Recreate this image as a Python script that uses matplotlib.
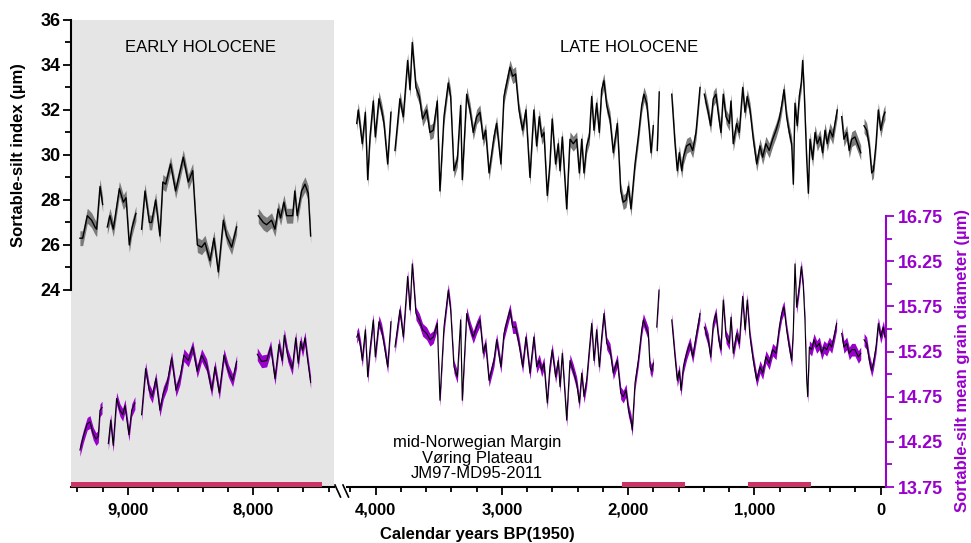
import numpy as np
import matplotlib
matplotlib.use('Agg')
import matplotlib.pyplot as plt
from matplotlib.ticker import MultipleLocator, FixedLocator, FuncFormatter
from matplotlib.lines import Line2D

plt.rcParams['font.family'] = ['Liberation Sans', 'DejaVu Sans']

N = None
# ---------------- Early Holocene ----------------
early_years_ss = [9380, 9358, 9321, 9287, 9260, 9247, 9220, 9199, N,
                  9162, 9141, 9114, 9066, 9034, 9013, 8987, 8968, 8934, N,
                  8889, 8862, 8827, 8809, 8777, 8743, 8720, 8697, 8658, 8618, 8557, 8517, 8482,
                  8445, 8411, 8384, 8344, 8313, 8278, 8238, 8212, 8172, 8132, N,
                  7960, 7920, 7894, 7854, 7827, 7801, 7782, 7756, 7734, 7686, 7669, 7650, 7615,
                  7588, 7562, 7543]
early_ss = [26.3, 26.3, 27.3, 27.1, 26.8, 26.7, 28.6, 27.8, N,
            26.8, 27.3, 26.7, 28.5, 27.9, 28.1, 26.0, 26.7, 27.4, N,
            26.7, 28.4, 27.0, 27.0, 28.0, 26.4, 28.8, 28.7, 29.6, 28.4, 29.9, 28.8, 29.3,
            26.0, 25.9, 26.1, 25.3, 26.3, 24.8, 27.1, 26.4, 25.9, 26.8, N,
            27.3, 27.0, 26.9, 27.1, 26.7, 27.6, 27.2, 27.9, 27.3, 27.3, 28.4, 27.3, 28.4,
            28.7, 28.3, 26.4]

early_years_mgd = [9380, 9353, 9322, 9300, 9274, 9252, 9234, 9220, 9204, N,
                   9154, 9135, 9115, 9088, 9061, 9040, 9021, 8990, 8968, 8942, N,
                   8889, 8857, 8828, 8804, 8775, 8743, 8716, 8685, 8650, 8615, 8584, 8552, 8517,
                   8482, 8446, 8411, 8371, 8331, 8305, 8270, 8233, 8199, 8164, 8132, N,
                   7968, 7933, 7893, 7861, 7827, 7795, 7769, 7753, 7726, 7689, 7662, 7642, 7623,
                   7607, 7588, 7570, 7543]
early_mgd = [14.16, 14.31, 14.45, 14.47, 14.34, 14.28, 14.31, 14.60, 14.63, N,
             14.23, 14.49, 14.21, 14.73, 14.60, 14.55, 14.65, 14.33, 14.60, 14.68, N,
             14.55, 15.06, 14.82, 14.75, 14.95, 14.60, 14.79, 14.90, 15.18, 14.82, 14.95, 15.21, 15.15,
             15.30, 15.03, 15.21, 15.10, 14.82, 15.08, 14.79, 15.21, 15.04, 14.93, 15.14, N,
             15.22, 15.14, 15.15, 15.30, 14.95, 15.33, 15.15, 15.43, 15.21, 15.06, 15.40, 15.12, 15.36,
             15.26, 15.40, 15.19, 14.91]

# ---------------- Late Holocene ----------------
late_years_ss = [4150, 4138, 4119, 4106, 4082, 4063, 4045, 4019, 4003, 3974, 3953, 3934, 3905, 3879, N,
                 3847, 3808, 3781, 3747, 3728, 3710, 3681, 3654, 3628, 3596, 3570, 3544, 3512, 3491,
                 3459, 3425, 3406, 3380, 3353, 3327, 3314, 3279, 3253, 3227, 3200, 3174, 3148, 3129,
                 3102, 3063, 3042, 3008, 2984, 2936, 2915, 2892, 2865, 2836, 2810, 2778, 2747, 2725,
                 2704, 2685, 2667, 2641, 2620, 2602, 2575, 2554, 2540, 2522, 2487, 2461, 2435, 2408,
                 2387, 2368, 2350, 2329, 2308, 2289, 2271, 2250, 2229, 2210, 2192, 2170, 2144, 2118,
                 2086, 2059, 2039, 2017, 1998, 1978, 1946, 1920, 1893, 1875, 1853, 1833, 1819, 1801, N,
                 1770, 1754, N,
                 1655, 1629, 1611, 1595, 1576, 1563, 1537, 1511, 1489, 1463, 1431, N,
                 1397, 1366, 1347, 1326, 1305, 1283, 1265, 1247, 1225, 1199, 1186, 1168, 1141, 1120,
                 1093, 1075, 1057, 1035, 1009, 982, 956, 935, 909, 883, 856, 829, 803, 784, 766, 745,
                 724, 705, 692, 679, 661, 645, 629, 618, 605, 586, 573, 560, 539, 520, 502, 481, 460,
                 441, 423, 402, 380, 362, 344, N,
                 309, 291, 269, 249, 230, 204, 177, 158, N,
                 132, 111, 90, 71, 58, 37, 19, 0, -21, -34]
late_ss = [31.4, 32.0, 31.1, 30.5, 31.9, 28.9, 30.8, 32.4, 30.8, 32.5, 32.0, 31.4, 29.6, 31.9, N,
           30.2, 32.5, 31.7, 34.2, 32.9, 35.0, 33.0, 32.6, 31.6, 32.0, 31.0, 31.1, 32.4, 28.4,
           31.7, 33.2, 32.6, 29.3, 29.8, 32.2, 28.9, 32.7, 32.0, 31.0, 31.7, 31.9, 30.7, 31.1,
           29.2, 30.8, 31.4, 29.6, 32.6, 33.9, 33.5, 33.6, 32.0, 31.1, 32.0, 29.0, 32.0, 30.4,
           31.7, 30.8, 31.0, 28.2, 29.6, 31.6, 29.6, 30.5, 29.3, 30.8, 27.6, 30.7, 30.5, 30.7,
           29.2, 30.7, 29.2, 30.4, 30.8, 32.6, 31.1, 32.3, 31.0, 32.9, 33.3, 32.2, 31.6, 30.1,
           31.4, 28.4, 27.9, 28.0, 28.6, 27.6, 29.6, 30.8, 32.2, 32.7, 32.3, 31.1, 30.1, 31.3, N,
           30.2, 32.8, N,
           32.7, 30.5, 29.3, 30.1, 29.3, 29.9, 30.4, 30.5, 30.2, 31.0, 33.0, N,
           32.7, 31.9, 31.3, 32.5, 32.7, 31.7, 31.0, 32.7, 31.7, 31.4, 32.4, 30.5, 31.4, 31.0,
           33.0, 31.9, 32.6, 32.0, 30.7, 29.6, 30.4, 29.9, 30.5, 30.2, 30.7, 31.1, 31.6, 32.2, 32.9, 31.7,
           31.0, 30.5, 28.7, 32.3, 31.3, 32.6, 33.2, 34.2, 32.7, 29.8, 28.3, 30.7, 29.8, 31.0, 30.5, 30.8, 30.1,
           31.1, 30.5, 31.1, 30.8, 31.4, 32.0, N,
           31.7, 30.7, 31.0, 30.2, 30.7, 30.8, 30.4, 30.1, N,
           31.3, 31.1, 30.4, 29.2, 29.3, 30.5, 32.0, 31.1, 31.7, 31.9]

late_years_mgd = [4150, 4138, 4119, 4106, 4082, 4063, 4045, 4019, 4003, 3974, 3953, 3934, 3905, 3879, N,
                  3847, 3808, 3781, 3747, 3728, 3710, 3681, 3654, 3628, 3596, 3570, 3544, 3512, 3491,
                  3459, 3425, 3406, 3380, 3353, 3327, 3314, 3279, 3253, 3227, 3200, 3174, 3148, 3129,
                  3102, 3063, 3042, 3008, 2984, 2936, 2915, 2892, 2865, 2836, 2810, 2778, 2747, 2725,
                  2704, 2685, 2667, 2641, 2620, 2602, 2575, 2554, 2540, 2522, 2487, 2461, 2435, 2408,
                  2387, 2368, 2350, 2329, 2308, 2289, 2271, 2250, 2229, 2210, 2192, 2170, 2144, 2118,
                  2086, 2059, 2039, 2017, 1998, 1978, 1968, 1946, 1920, 1893, 1880, 1859, 1841, 1827,
                  1814, 1801, N,
                  1774, 1756, N,
                  1655, 1629, 1611, 1595, 1582, 1563, 1537, 1511, 1489, 1463, 1431, N,
                  1397, 1366, 1347, 1326, 1305, 1283, 1265, 1247, 1225, 1199, 1186, 1168, 1141, 1120,
                  1093, 1075, 1057, 1035, 1009, 982, 956, 935, 909, 883, 856, 829, 803, 784, 766, 745,
                  724, 705, 692, 679, 666, 645, 629, 613, 600, 586, 578, 565, 547, 528, 507, 486, 467,
                  449, 428, 407, 388, 370, 349, N,
                  309, 291, 269, 249, 230, 204, 177, 158, N,
                  132, 111, 90, 71, 58, 37, 19, 0, -21, -34]
late_mgd = [15.41, 15.45, 15.30, 15.15, 15.49, 14.97, 15.27, 15.60, 15.19, 15.58, 15.49, 15.34, 15.08, 15.58, N,
            15.30, 15.71, 15.41, 16.08, 15.71, 16.22, 15.67, 15.60, 15.49, 15.45, 15.38, 15.41, 15.56, 14.71,
            15.52, 15.93, 15.71, 15.08, 14.97, 15.60, 14.71, 15.67, 15.52, 15.41, 15.52, 15.60, 15.23, 15.34,
            14.93, 15.15, 15.38, 15.08, 15.45, 15.71, 15.52, 15.52, 15.34, 15.08, 15.41, 15.01, 15.41, 15.08,
            15.15, 15.04, 15.12, 14.68, 15.08, 15.27, 14.97, 15.15, 14.86, 15.23, 14.49, 15.15, 15.04, 14.90,
            14.68, 15.01, 14.75, 14.93, 15.27, 15.56, 15.15, 15.49, 15.08, 15.41, 15.67, 15.34, 15.27, 15.01,
            15.15, 14.79, 14.75, 14.82, 14.60, 14.49, 14.38, 14.90, 15.15, 15.49, 15.60, 15.52, 15.45, 15.08,
            15.03, 15.12, N,
            15.52, 15.93, N,
            15.60, 15.19, 14.93, 15.04, 14.82, 15.08, 15.23, 15.34, 15.19, 15.41, 15.67, N,
            15.52, 15.38, 15.19, 15.56, 15.67, 15.38, 15.27, 15.82, 15.41, 15.34, 15.63, 15.23, 15.45, 15.34,
            15.86, 15.49, 15.82, 15.41, 15.15, 14.93, 15.08, 15.01, 15.19, 15.12, 15.27, 15.23, 15.52, 15.67, 15.74, 15.49,
            15.30, 15.15, 15.49, 16.22, 15.74, 15.97, 16.19, 15.97, 15.60, 14.93, 14.75, 15.30, 15.27, 15.38, 15.30, 15.34, 15.23,
            15.30, 15.27, 15.34, 15.30, 15.41, 15.56, N,
            15.45, 15.30, 15.34, 15.23, 15.27, 15.27, 15.19, 15.23, N,
            15.38, 15.34, 15.15, 15.04, 15.12, 15.30, 15.56, 15.41, 15.52, 15.41]

# cold-event bars (years BP)
bar_starts = [9450, 2050, 1050]
bar_ends = [7450, 1550, 550]

ss_err = 0.33
mgd_err = 0.07

PURPLE = '#9900cc'
PINK = '#cc3366'
GREY_BG = '#e5e5e5'


def runs(xs, ys):
    xs = np.array([np.nan if v is None else v for v in xs], float)
    ys = np.array([np.nan if v is None else v for v in ys], float)
    ok = ~np.isnan(ys)
    out = []
    cur = []
    for i in range(len(xs)):
        if ok[i]:
            cur.append(i)
        else:
            if cur:
                out.append((xs[cur], ys[cur]))
            cur = []
    if cur:
        out.append((xs[cur], ys[cur]))
    return out


def draw(ax, xs, ys, err, band_color, lw):
    for x, y in runs(xs, ys):
        ax.fill_between(x, y - err, y + err, color=band_color, lw=0, zorder=2)
        ax.plot(x, y, color='black', lw=lw, zorder=3)


W, H = 971, 543
fig = plt.figure(figsize=(W / 100, H / 100), dpi=100)

bot = (H - 487) / H
hgt = (487 - 20) / H
axL = fig.add_axes([71 / W, bot, (334 - 71) / W, hgt])
axR = fig.add_axes([347 / W, bot, (886 - 347) / W, hgt])
axL2 = axL.twinx()
axR2 = axR.twinx()

SS_LIM = (15.24, 36)
MGD_LIM = (13.75, 18.92)

axL.set_xlim(9451, 7357)
axR.set_xlim(4227, -42)
for a in (axL, axR):
    a.set_ylim(*SS_LIM)
for a in (axL2, axR2):
    a.set_ylim(*MGD_LIM)

axL.set_facecolor(GREY_BG)

draw(axL, early_years_ss, early_ss, ss_err, '#7a7a7a', 1.0)
draw(axL2, early_years_mgd, early_mgd, mgd_err, PURPLE, 0.8)
draw(axR, late_years_ss, late_ss, ss_err, '#7a7a7a', 1.0)
draw(axR2, late_years_mgd, late_mgd, mgd_err, PURPLE, 0.8)

# pink bars
axL.axvspan(bar_starts[0], bar_ends[0], ymin=0, ymax=0.011, color=PINK, lw=0, zorder=4)
for s, e in zip(bar_starts[1:], bar_ends[1:]):
    axR.axvspan(s, e, ymin=0, ymax=0.011, color=PINK, lw=0, zorder=4)

fmt = FuncFormatter(lambda v, p: f"{v:,.0f}")
for a, majors in ((axL, [9000, 8000]), (axR, [4000, 3000, 2000, 1000, 0])):
    a.xaxis.set_major_locator(FixedLocator(majors))
    a.xaxis.set_minor_locator(MultipleLocator(200))
    a.xaxis.set_major_formatter(fmt)
    a.tick_params(axis='x', which='major', length=5.5, width=1.3, pad=6,
                  labelsize=12, direction='out')
    a.tick_params(axis='x', which='minor', length=3.5, width=1.3, direction='out')
    for lbl in a.get_xticklabels():
        lbl.set_fontweight('bold')
    a.spines['bottom'].set_linewidth(1.5)
    for s in ('top', 'right', 'left'):
        a.spines[s].set_visible(False)

# left SS axis
axL.spines['left'].set_visible(True)
axL.spines['left'].set_bounds(24, 36)
axL.spines['left'].set_linewidth(1.5)
axL.yaxis.set_major_locator(FixedLocator([24, 26, 28, 30, 32, 34, 36]))
axL.yaxis.set_minor_locator(FixedLocator([25, 27, 29, 31, 33, 35]))
axL.tick_params(axis='y', which='major', length=5.5, width=1.3, pad=2, labelsize=13)
axL.tick_params(axis='y', which='minor', length=4, width=1.3)
for lbl in axL.get_yticklabels():
    lbl.set_fontweight('bold')
axR.tick_params(axis='y', which='both', left=False, labelleft=False)

# twin axes spines
for a in (axL2, axR2):
    for s in a.spines.values():
        s.set_visible(False)
axL2.tick_params(axis='y', which='both', right=False, labelright=False)
axR2.spines['right'].set_visible(True)
axR2.spines['right'].set_bounds(13.75, 16.75)
axR2.spines['right'].set_color(PURPLE)
axR2.spines['right'].set_linewidth(1.5)
axR2.yaxis.set_major_locator(FixedLocator([13.75, 14.25, 14.75, 15.25, 15.75, 16.25, 16.75]))
axR2.yaxis.set_minor_locator(FixedLocator([14.0, 14.5, 15.0, 15.5, 16.0, 16.5]))
axR2.yaxis.set_major_formatter(FuncFormatter(lambda v, p: f"{v:.2f}"))
axR2.tick_params(axis='y', which='major', length=5.5, width=1.3, pad=3, labelsize=13,
                 colors=PURPLE)
axR2.tick_params(axis='y', which='minor', length=4, width=1.3, colors=PURPLE)
for lbl in axR2.get_yticklabels():
    lbl.set_fontweight('bold')

# break marks
for x0 in (335, 343):
    fig.add_artist(Line2D([x0 / W, (x0 + 5.5) / W], [1 - 485 / H, 1 - 497 / H],
                          color='black', lw=1.2))

# texts
fig.text(200 / W, 1 - 48 / H, 'EARLY HOLOCENE', ha='center', va='center', fontsize=12)
fig.text(629 / W, 1 - 48 / H, 'LATE HOLOCENE', ha='center', va='center', fontsize=12)
fig.text(477 / W, 1 - 458 / H, 'mid-Norwegian Margin\nVøring Plateau\nJM97-MD95-2011',
         ha='center', va='center', fontsize=12, linespacing=1.0)
fig.text(477 / W, 1 - 534 / H, 'Calendar years BP(1950)', ha='center', va='center',
         fontsize=12, fontweight='bold')
fig.text(18 / W, 1 - 155 / H, 'Sortable-silt index (µm)', ha='center', va='center',
         rotation=90, fontsize=12, fontweight='bold')
fig.text(962 / W, 1 - 360 / H, 'Sortable-silt mean grain diameter (µm)', ha='center',
         va='center', rotation=90, fontsize=12, fontweight='bold', color=PURPLE)

fig.savefig('out.png', dpi=100)
